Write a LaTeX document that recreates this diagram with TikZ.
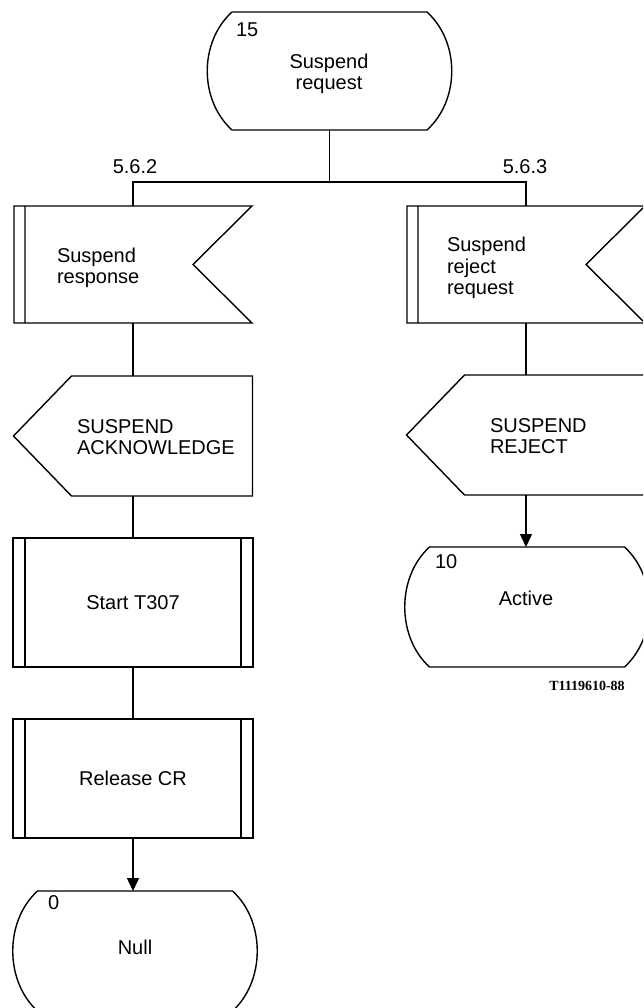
\documentclass[tikz,border=0pt]{standalone}
\usepackage{fontspec}
\setmainfont{Liberation Sans}
\newfontfamily\figserif{Liberation Serif}
\usetikzlibrary{arrows.meta,calc}
\newcommand\stateoutline[1]{\draw (#1.north west) -- (#1.north east)
      .. controls +(33,30) and +(33,-30) .. (#1.south east)
      -- (#1.south west)
      .. controls +(-33,-30) and +(-33,30) .. (#1.north west) -- cycle;}
\newcommand\inoutline[1]{\draw (#1.north west) -- (#1.north east)
      -- ([xshift=-59pt]#1.east) -- (#1.south east)
      -- (#1.south west) -- cycle
      ([xshift=11pt]#1.north west) -- ([xshift=11pt]#1.south west);}
\newcommand\outoutline[1]{\draw ([xshift=58pt]#1.north west) -- (#1.north east)
      -- (#1.south east) -- ([xshift=58pt]#1.south west)
      -- (#1.west) -- cycle;}
\newcommand\procoutline[1]{\draw ([xshift=12pt]#1.north west) -- ([xshift=12pt]#1.south west)
      ([xshift=-12pt]#1.north east) -- ([xshift=-12pt]#1.south east);}
\begin{document}
\begin{tikzpicture}[x=1pt,y=-1pt,line width=1.4pt,line join=miter,
  every node/.style={inner sep=0pt,outer sep=0pt},
  lbl/.style={font=\fontsize{20}{21.5}\selectfont},
  figlbl/.style={font=\figserif\bfseries\fontsize{14}{16}\selectfont},
  statebox/.style={minimum width=195pt,minimum height=#1},
  statebox/.default=120pt,
  inbox/.style={minimum width=238pt,minimum height=117pt},
  outbox/.style={minimum width=239pt,minimum height=120pt},
  procbox/.style={draw,rectangle,minimum width=240pt,minimum height=#1,
    font=\fontsize{20}{21.5}\selectfont},
  arr/.style={-{Triangle[length=13pt,width=12pt]}}
]
\useasboundingbox (0,0) rectangle (643,1008);
\fill[white] (0,0) rectangle (643,1008);
\clip (0,0) rectangle (643,1008);

% top state
\node[statebox=118pt] (s15) at (329.5,71) {};
\stateoutline{s15}
\node[lbl,anchor=west] (n15) at (236,30) {15};
\node[lbl,align=center] (t15) at (329,74) {Suspend\\request};
\coordinate (split) at (329.5,182);
\node[lbl] (l562) at (135,167) {5.6.2};
\node[lbl] (l563) at (525,167) {5.6.3};

% left column
\node[inbox] (in1) at (133,264.5) {};
\inoutline{in1}
\node[lbl,align=left,anchor=west] (tin1) at (57,268) {Suspend\\response};
\node[outbox] (out1) at (133,436) {};
\outoutline{out1}
\node[lbl,align=left,anchor=west] (tout1) at (77,437) {SUSPEND\\ACKNOWLEDGE};
\node[procbox=129pt] (st) at (133,602.5) {Start T307};
\procoutline{st}
\node[procbox=119pt] (rel) at (133,778.5) {Release CR};
\procoutline{rel}
\node[statebox] (nul) at (135,951) {};
\stateoutline{nul}
\node[lbl,anchor=west] (n0) at (48,903) {0};
\node[lbl] (tnul) at (135,947) {Null};

% right column
\node[inbox] (in2) at (526,264.5) {};
\inoutline{in2}
\node[lbl,align=left,anchor=west] (tin2) at (447,268) {Suspend\\reject\\request};
\node[outbox] (out2) at (526,435) {};
\outoutline{out2}
\node[lbl,align=left,anchor=west] (tout2) at (490,436) {SUSPEND\\REJECT};
\node[statebox] (act) at (527,607) {};
\stateoutline{act}
\node[lbl,anchor=west] (n10) at (435,562) {10};
\node[lbl] (tact) at (526,598) {Active};

\node[figlbl] (fig) at (587,686) {T1119610-88};

% connectors
\draw (s15.south) -- (split);
\draw (split) -| (in1.north);
\draw (split) -| (in2.north);
\draw (in1.south) -- (out1.north);
\draw (out1.south) -- (st.north);
\draw (st.south) -- (rel.north);
\draw[arr] (rel.south) -- (rel.south |- nul.north);
\draw (in2.south) -- (out2.north);
\draw[arr] (out2.south) -- (out2.south |- act.north);
\end{tikzpicture}
\end{document}
